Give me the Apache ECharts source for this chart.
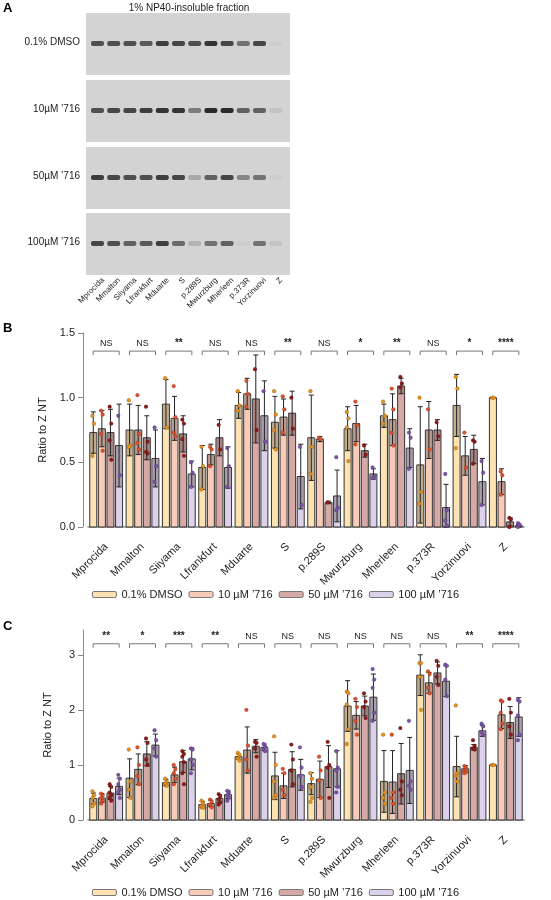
<!DOCTYPE html>
<html>
<head>
<meta charset="utf-8">
<script src="https://cdn.jsdelivr.net/npm/echarts@6/dist/echarts.min.js"></script>
<style>html,body{margin:0;background:#fff}#chart{width:551px;height:900px}</style>
</head>
<body>
<div id="chart"></div>
<script>
var categories = ['Mprocida','Mmalton','Siiyama','Lfrankfurt','Mduarte','S','p.289S','Mwurzburg','Mherleen','p.373R','Yorzinuovi','Z'];
var treatments = ['0.1% DMSO','10 µM \u2019716','50 µM \u2019716','100 µM \u2019716'];
var blotRows = ['0.1% DMSO','10µM \u2019716','50µM \u2019716','100µM \u2019716'];

// panel A band darkness per lane
var bandsDMSO = [.7,.7,.7,.65,.8,.75,.7,.85,.75,.5,.75,0];
var bands10 = [.7,.75,.75,.8,.85,.85,.45,.9,.9,.6,.6,.05];
var bands50 = [.8,.75,.7,.7,.8,.75,.2,.6,.75,.4,.5,0];
var bands100 = [.75,.7,.6,.65,.8,.55,.15,.5,.6,0,.5,.05];

// panel B: [mean, sd, points...] per category
var bDMSO = [[.73,.16,.86,.80,.55],[.75,.20,.98,.63,.62],[.95,.19,1.15,.77],[.46,.17,.62,.47,.29],[.94,.10,1.05,.94,.90],[.81,.20,1.05,.87,.75,.60],[.69,.33,1.05,.62,.41],[.76,.17,.89,.84,.77,.51],[.86,.09,.97,.86,.80],[.48,.45,1.00,.27,.18],[.94,.24,1.16,1.07,.61],[1.0,0,1.0,1.0]];
var b10 = [[.76,.14,.90,.87,.72,.59],[.75,.19,1.02,.72,.65,.60],[.84,.17,1.09,.85,.73,.70],[.56,.08,.62,.60,.47],[1.03,.12,1.13,1.03,.93],[.85,.14,1.01,.91,.73],[.68,.02,.69,.68],[.80,.14,.97,.79,.64],[.83,.20,1.07,.91,.73,.63],[.75,.22,.91,.60],[.55,.15,.73,.46],[.35,.10,.43,.40,.25]];
var b50 = [[.73,.18,.93,.80,.67,.52],[.69,.17,.93,.66,.58,.57],[.72,.14,.83,.80,.68,.55],[.69,.14,.79,.60],[.99,.34,1.22,.75],[.88,.17,1.00,.76],[.19,.01,.19],[.59,.05,.63,.56],[1.09,.06,1.16,1.11,1.08],[.75,.08,.81,.70],[.60,.11,.67,.66,.49],[.04,.03,.07,.06,.00]];
var b100 = [[.63,.32,.86,.40],[.53,.22,.77,.47,.35],[.41,.10,.50,.42,.31],[.46,.16,.61,.47,.31],[.86,.27,1.05,.66],[.39,.25,.62,.17],[.24,.20,.54,.15,.13],[.41,.04,.46,.39,.38],[.61,.15,.73,.69,.45],[.15,.18,.41,.13,.05,.01],[.35,.18,.51,.42,.17],[.01,.01,.03,.02,0]];
var bSig = ['NS','NS','**','NS','NS','**','NS','*','**','NS','*','****'];

// panel C
var cDMSO = [[.39,.10,.52,.45,.40,.30,.25],[.76,.35,1.28,.70,.55,.40],[.68,.06,.75,.70,.66,.62],[.28,.06,.35,.30,.25,.22],[1.15,.05,1.22,1.18,1.12,1.08],[.80,.43,1.52,1.00,.70,.45,.40],[.66,.20,.85,.75,.60,.40,.33],[2.07,.46,2.33,2.30,2.10,1.65,1.38],[.70,.56,1.55,.50,.40,.30],[2.63,.37,2.85,2.85,2.60,2.00],[.97,.55,2.08,.85,.80,.70],[1.0,0,1.0,1.0]];
var c10 = [[.40,.08,.48,.45,.40,.35,.30],[.92,.28,1.32,1.00,.80,.65],[.82,.14,1.00,.92,.85,.75,.65],[.30,.06,.37,.33,.28,.23],[1.27,.42,2.00,1.35,1.10,.90],[.62,.23,.93,.85,.55,.45],[.74,.33,1.15,.90,.72,.40],[1.90,.25,2.20,2.05,1.80,1.55],[.69,.57,1.55,.50,.40,.30],[2.49,.19,2.70,2.65,2.40,2.30],[.93,.06,.98,.95,.90,.87,.85],[1.91,.25,2.17,2.15,1.95,1.75,1.65]];
var c50 = [[.49,.12,.65,.60,.50,.45,.40,.35],[1.20,.22,1.48,1.40,1.10,1.00],[1.06,.20,1.25,1.20,1.15,1.05,.85,.65],[.39,.07,.47,.43,.38,.32,.28],[1.34,.12,1.42,1.40,1.30,1.15],[.92,.32,1.37,1.10,.90,.65],[.97,.38,1.42,1.00,.95,.40],[2.07,.18,2.30,2.15,2.05,1.85],[.84,.55,1.67,.70,.55,.45],[2.67,.20,2.89,2.80,2.60,2.45],[1.32,.05,1.45,1.35,1.30,1.28],[1.77,.29,2.20,1.95,1.70,1.55]];
var c100 = [[.61,.15,.82,.75,.65,.55,.50,.40],[1.36,.20,1.63,1.45,1.30,1.15],[1.11,.20,1.30,1.28,1.10,1.00,.85],[.46,.07,.53,.50,.45,.40,.35],[1.32,.06,1.38,1.33,1.28,1.25],[.82,.28,1.32,.95,.80,.60],[.93,.33,1.25,.95,.90,.60,.50],[2.23,.42,2.74,2.55,2.40,1.95,1.80],[.90,.60,1.80,.70,.62,.55],[2.52,.28,2.82,2.80,2.55,2.25],[1.62,.10,1.75,1.70,1.60,1.55],[1.87,.35,2.18,2.15,1.90,1.55,1.45]];
var cSig = ['**','*','***','**','NS','NS','NS','NS','NS','NS','**','****'];

var fills = ['#fde3b2','#f8cbb8','#d6a9a6','#dcd1ea'];
var dots = ['#e8911c','#e0502a','#8e1a1a','#7b52a8'];
var font = 'Liberation Sans, Arial, sans-serif';

function barSeries(name, t, rows, axis) {
  return {
    name: name, type: 'custom', xAxisIndex: axis, yAxisIndex: axis,
    itemStyle: { color: fills[t] },
    data: rows.map(function(r, i) { return [i, r[0], r[1]]; }),
    renderItem: function(params, api) {
      var r = rows[params.dataIndex];
      var c = api.coord([api.value(0), 0]);
      var x = c[0] + (t - 1.5) * 8.6, w = 7;
      var yTop = api.coord([0, r[0]])[1];
      var yHi = api.coord([0, r[0] + r[1]])[1], yLo = api.coord([0, Math.max(0, r[0] - r[1])])[1];
      var kids = [
        { type: 'rect', shape: { x: x - w / 2, y: yTop, width: w, height: c[1] - yTop }, style: { fill: fills[t], stroke: '#333', lineWidth: 1 } },
        { type: 'rect', shape: { x: x - w / 2 + .5, y: yTop, width: w - 1, height: Math.max(0, yLo - yTop) }, style: { fill: 'rgba(80,70,70,0.35)' } },
        { type: 'line', shape: { x1: x, y1: yHi, x2: x, y2: yLo }, style: { stroke: '#222', lineWidth: 1 } },
        { type: 'line', shape: { x1: x - 2.5, y1: yHi, x2: x + 2.5, y2: yHi }, style: { stroke: '#222', lineWidth: 1 } },
        { type: 'line', shape: { x1: x - 2.5, y1: yLo, x2: x + 2.5, y2: yLo }, style: { stroke: '#222', lineWidth: 1 } }
      ];
      r.slice(2).forEach(function(v, k) {
        var y = api.coord([0, v])[1];
        kids.push({ type: 'circle', shape: { cx: x + (k % 2 ? 1 : -1) * 0.8, cy: y, r: 1.9 }, style: { fill: dots[t], stroke: 'rgba(0,0,0,0.3)', lineWidth: .5 } });
      });
      return { type: 'group', children: kids };
    }
  };
}

function sigSeries(sig, level, axis) {
  return {
    type: 'custom', xAxisIndex: axis, yAxisIndex: axis, silent: true,
    data: sig.map(function(s, i) { return [i, level]; }),
    renderItem: function(params, api) {
      var p = api.coord([api.value(0), api.value(1)]);
      return { type: 'group', children: [
        { type: 'polyline', shape: { points: [[p[0] - 13, p[1] + 4], [p[0] - 13, p[1]], [p[0] + 13, p[1]], [p[0] + 13, p[1] + 4]] }, style: { stroke: '#777', fill: null, lineWidth: 1 } },
        { type: 'text', x: p[0], y: p[1] - 3, style: { text: sig[params.dataIndex], fill: '#222', font: (sig[params.dataIndex] === 'NS' ? '9px ' : 'bold 10px ') + font, align: 'center', verticalAlign: 'bottom' } }
      ] };
    }
  };
}

// panel A graphics
var stripTop = [13, 80, 147, 213], stripH = 62;
var allBands = [bandsDMSO, bands10, bands50, bands100];
var graphics = [
  { type: 'text', left: 3, top: 2, style: { text: 'A', font: 'bold 13px ' + font, fill: '#000' } },
  { type: 'text', left: 3, top: 322, style: { text: 'B', font: 'bold 13px ' + font, fill: '#000' } },
  { type: 'text', left: 3, top: 620, style: { text: 'C', font: 'bold 13px ' + font, fill: '#000' } },
  { type: 'text', x: 189, y: 3, style: { text: '1% NP40-insoluble fraction', font: '10px ' + font, fill: '#222', align: 'center' } }
];
stripTop.forEach(function(top, r) {
  graphics.push({ type: 'rect', shape: { x: 86, y: top, width: 204, height: stripH }, style: { fill: '#d3d3d3' } });
  graphics.push({ type: 'text', x: 80, y: top + stripH / 2 - 2, style: { text: blotRows[r], font: '10px ' + font, fill: '#222', align: 'right', verticalAlign: 'middle' } });
  allBands[r].forEach(function(d, i) {
    var g = Math.round(205 - d * 180);
    graphics.push({ type: 'rect', shape: { x: 91 + i * 16.2, y: top + 28, width: 13, height: 5, r: 2 }, style: { fill: 'rgb(' + g + ',' + g + ',' + g + ')' } });
  });
});
categories.forEach(function(c, i) {
  graphics.push({ type: 'text', x: 103 + i * 16.2, y: 279, rotation: Math.PI / 4, style: { text: c, font: '8px ' + font, fill: '#222', align: 'right', verticalAlign: 'middle' } });
});

function xAxis(grid) {
  return { type: 'category', gridIndex: grid, data: categories, offset: 8,
    axisLine: { lineStyle: { color: '#888', width: 1.5 } }, axisTick: { alignWithLabel: true, lineStyle: { color: '#888' } },
    axisLabel: { rotate: 45, color: '#222', fontSize: 11, fontFamily: font, interval: 0, margin: 10 } };
}
function yAxis(grid, max, interval, fmt) {
  return { type: 'value', gridIndex: grid, min: 0, max: max, interval: interval, offset: 5,
    name: 'Ratio to Z NT', nameLocation: 'middle', nameGap: 30, nameTextStyle: { fontSize: 11, fontFamily: font, color: '#222' },
    axisLine: { show: true, lineStyle: { color: '#888' } }, axisTick: { show: true, lineStyle: { color: '#888' } }, splitLine: { show: false },
    axisLabel: { color: '#222', fontSize: 11, fontFamily: font, showMaxLabel: fmt ? true : false, formatter: fmt ? function(v) { return v.toFixed(1); } : '{value}' } };
}
function legend(top) {
  return { top: top, left: 'center', itemWidth: 24, itemHeight: 6, itemGap: 6, data: treatments, padding: 0,
    textStyle: { fontSize: 11, fontFamily: font, color: '#222' }, itemStyle: { borderColor: '#777', borderWidth: 1 } };
}

var chart = echarts.init(document.getElementById('chart'));
chart.setOption({
  animation: false,
  graphic: graphics,
  grid: [{ left: 88, right: 27, top: 333, height: 194 }, { left: 88, right: 27, top: 630, height: 190 }],
  xAxis: [xAxis(0), xAxis(1)],
  yAxis: [yAxis(0, 1.5, 0.5, true), yAxis(1, 3.45, 1, false)],
  legend: [legend(589), legend(887)],
  series: [
    barSeries(treatments[0], 0, bDMSO, 0), barSeries(treatments[1], 1, b10, 0), barSeries(treatments[2], 2, b50, 0), barSeries(treatments[3], 3, b100, 0),
    barSeries(treatments[0], 0, cDMSO, 1), barSeries(treatments[1], 1, c10, 1), barSeries(treatments[2], 2, c50, 1), barSeries(treatments[3], 3, c100, 1),
    sigSeries(bSig, 1.36, 0), sigSeries(cSig, 3.2, 1)
  ]
});
</script>
</body>
</html>
